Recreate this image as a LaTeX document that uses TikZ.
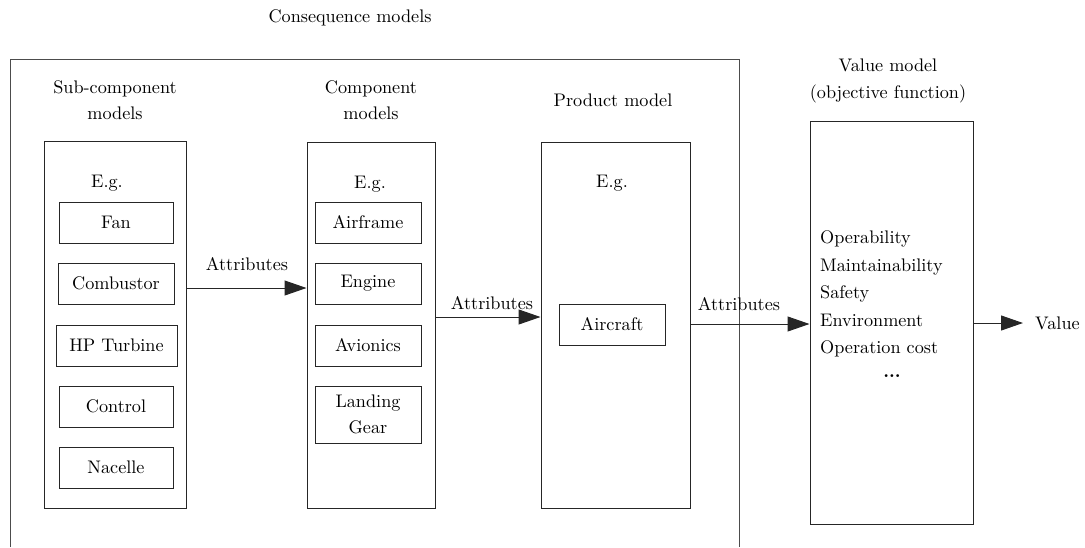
\documentclass[tikz,border=0pt]{standalone}
\usepackage{fontspec}
\setmainfont{lmroman10-regular.otf}[BoldFont=lmroman10-bold.otf]
\usetikzlibrary{arrows.meta}
\begin{document}
\begin{tikzpicture}[x=1pt,y=-1pt,
  every node/.style={font=\fontsize{18.2}{26.5}\selectfont, inner sep=0pt},
  frame/.style={draw=black!70, line width=1pt},
  bigbox/.style={draw=black!85, line width=1pt, rectangle, minimum width=#1},
  item/.style={draw=black!85, line width=1pt, rectangle, minimum height=41, align=center},
  txt/.style={align=center},
  arr/.style={draw=black!85, line width=1pt, -{Triangle[length=22pt,width=15pt]}}
]
\useasboundingbox (0,0) rectangle (1085,547);
% outer frame (open at bottom)
\draw[frame] (10,547) -- (10,59) -- (739,59) -- (739,547);
\node[txt] (cons) at (350,18) {Consequence models};

% titles
\node[txt] (tsub) at (115,100) {Sub-component\\models};
\node[txt] (tcomp) at (371,100) {Component\\models};
\node[txt] (tprod) at (613,100) {Product model};
\node[txt] (tval) at (888,81) {Value model\\(objective function)};

% big boxes
\node[bigbox=142, minimum height=367] (sub) at (115,324.5) {};
\node[bigbox=128, minimum height=366] (comp) at (371,325) {};
\node[bigbox=149, minimum height=366] (prod) at (615.5,325) {};
\node[bigbox=163, minimum height=403] (val) at (891.5,322.5) {};

% E.g.
\node (eg1) at (107,183) {E.g.};
\node (eg2) at (370,184) {E.g.};
\node (eg3) at (612,183) {E.g.};

% sub-components
\node[item, minimum width=114] (fan) at (116,222.5) {Fan};
\node[item, minimum width=116] (comb) at (116,283.5) {Combustor};
\node[item, minimum width=121] (hpt) at (116.5,345.5) {HP Turbine};
\node[item, minimum width=114] (ctrl) at (116,406.5) {Control};
\node[item, minimum width=114] (nac) at (116,467.5) {Nacelle};

% components
\node[item, minimum width=106] (airf) at (368,222.5) {Airframe};
\node[item, minimum width=106] (eng) at (368,283.5) {Engine};
\node[item, minimum width=106] (avi) at (368,345.5) {Avionics};
\node[item, minimum width=106, minimum height=57] (lg) at (368,414.5) {Landing\\Gear};

% product
\node[item, minimum width=106] (acft) at (612,324.5) {Aircraft};

% value list
\node[anchor=west, align=left, font=\fontsize{18.2}{27.5}\selectfont] (vlist) at (820,294) {Operability\\Maintainability\\Safety\\Environment\\Operation cost};
\node (vdots) at (892,376) {\textbf{...}};
\node[anchor=west] (value) at (1035,323) {Value};

% arrows
\coordinate (y1) at (0,288);
\coordinate (y2) at (0,317);
\coordinate (y3) at (0,324);
\coordinate (y4) at (0,323);
\draw[arr] (sub.east |- y1) -- (comp.west |- y1);
\draw[arr] (comp.east |- y2) -- (prod.west |- y2);
\draw[arr] (prod.east |- y3) -- (val.west |- y3);
\draw[arr, shorten >=12pt] (val.east |- y4) -- (value.west |- y4);

% labels
\node (at1) at (247,264) {Attributes};
\node (at2) at (492,303) {Attributes};
\node (at3) at (739,304) {Attributes};
\end{tikzpicture}
\end{document}
